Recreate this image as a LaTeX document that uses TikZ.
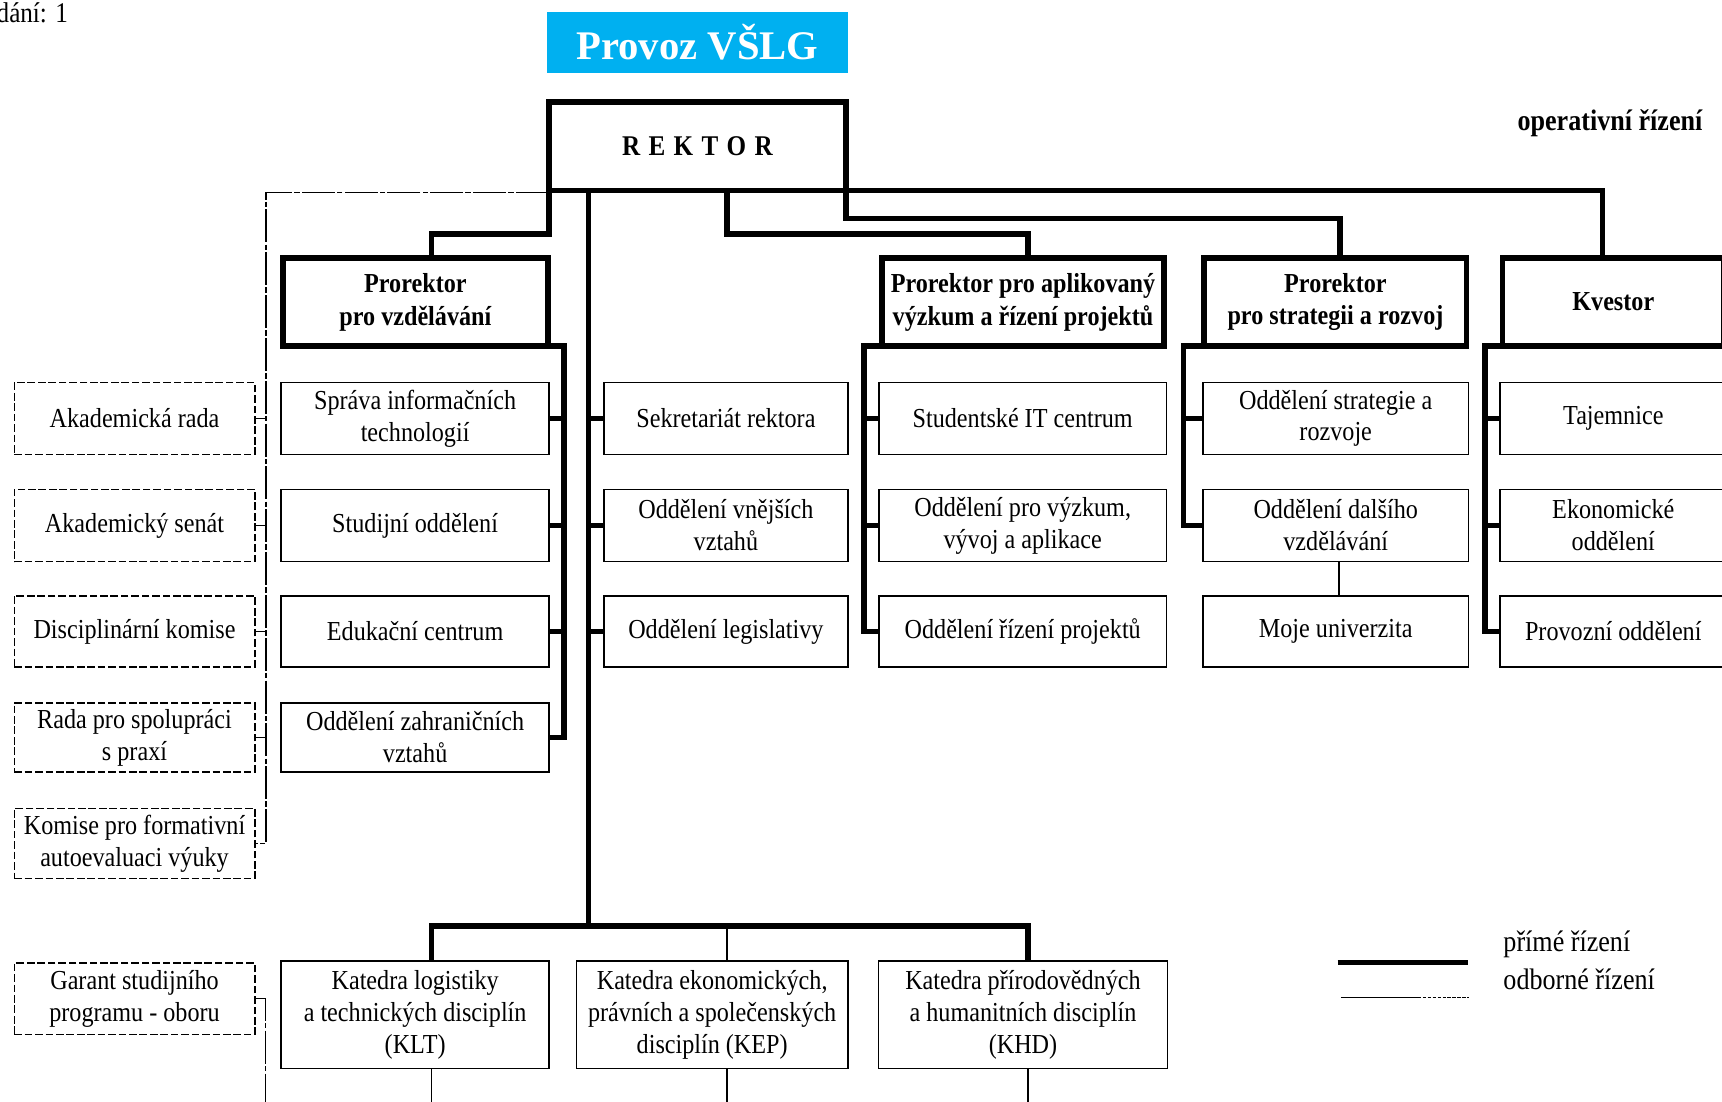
\documentclass[tikz,border=0pt]{standalone}
\usepackage{fontspec}
\setmainfont[FakeStretch=0.88]{Liberation Serif}
\newfontfamily\titlefont{Liberation Serif}
\definecolor{vslgblue}{RGB}{0,176,240}

\begin{document}
\begin{tikzpicture}[x=1pt,y=-1pt,line join=miter]
        \tikzstyle{unitnode}=[
            rectangle,
            draw=black,
            line width=1.3pt,
            outer sep=0pt,
            inner sep=1pt,
            align=center,
            text=black,
            font=\fontsize{25}{29}\selectfont
        ]
        \tikzstyle{leadnode}=[
            unitnode,
            line width=5pt,
            font=\fontsize{25}{30}\selectfont\bfseries
        ]
        \tikzstyle{boardnode}=[
            unitnode,
            dash pattern=on 7pt off 2.5pt
        ]
        \tikzstyle{labelnode}=[
            inner sep=0pt,
            outer sep=0pt,
            text=black
        ]
        \tikzstyle{bus}=[line width=5pt]
        \tikzstyle{stub}=[line width=4pt]
        \tikzstyle{odbor}=[line width=1.1pt, dash pattern=on 30pt off 2pt on 5pt off 2pt]

        \useasboundingbox (0,0) rectangle (1568,1003);

        \node[labelnode, anchor=west, font=\fontsize{26}{30}\selectfont] (vydani) at (-3,12) {dání: 1};
        \node[fill=vslgblue, outer sep=0pt, minimum width=274pt, minimum height=55.5pt, text=white,
              font=\titlefont\fontsize{37}{40}\selectfont\bfseries] (provoz) at (635,38.5) {Provoz VŠLG};
        \node[labelnode, font=\fontsize{27}{30}\selectfont\bfseries] (operRiz) at (1466,112) {operativní řízení};

        \node[leadnode, minimum width=270.5pt, minimum height=80.5pt, font=\fontsize{26}{30}\selectfont\bfseries]
            (rektor) at (635,133) {R\kern7.6pt E\kern7.6pt K\kern7.6pt T\kern7.6pt O\kern7.6pt R};

        % prorektori a kvestor
        \node[leadnode, minimum width=241.5pt, minimum height=80pt] (prorVzd) at (378.25,275) {Prorektor\\pro vzdělávání};
        \node[leadnode, minimum width=257pt, minimum height=80pt] (prorApl) at (931.5,275) {Prorektor pro aplikovaný\\výzkum a řízení projektů};
        \node[leadnode, minimum width=239pt, minimum height=80pt] (prorStr) at (1216,275) {Prorektor\\pro strategii a rozvoj};
        \node[leadnode, minimum width=202pt, minimum height=80pt] (kvestor) at (1469,275) {Kvestor};

        % oddeleni
        \node[unitnode, minimum width=244pt, minimum height=65.5pt] (infTech) at (378,381) {Správa informačních\\technologií};
        \node[unitnode, minimum width=244pt, minimum height=66pt] (studOdd) at (378,478.5) {Studijní oddělení};
        \node[unitnode, minimum width=244pt, minimum height=65pt] (edukCen) at (378,575) {Edukační centrum};
        \node[unitnode, minimum width=244pt, minimum height=63pt] (zahrOdd) at (378,671.5) {Oddělení zahraničních\\vztahů};

        \node[unitnode, minimum width=222pt, minimum height=65.5pt] (sekret) at (661,381) {Sekretariát rektora};
        \node[unitnode, minimum width=222pt, minimum height=66pt] (vnejOdd) at (661,478.5) {Oddělení vnějších\\vztahů};
        \node[unitnode, minimum width=222pt, minimum height=65pt] (legOdd) at (661,575) {Oddělení legislativy};

        \node[unitnode, minimum width=261.5pt, minimum height=65.5pt] (studIT) at (931.25,381) {Studentské IT centrum};
        \node[unitnode, minimum width=261.5pt, minimum height=66pt] (vyzOdd) at (931.25,478.5) {Oddělení pro výzkum,\\vývoj a aplikace};
        \node[unitnode, minimum width=261.5pt, minimum height=65pt] (projOdd) at (931.25,575) {Oddělení řízení projektů};

        \node[unitnode, minimum width=241.5pt, minimum height=65.5pt] (stratOdd) at (1216.25,381) {Oddělení strategie a\\rozvoje};
        \node[unitnode, minimum width=241.5pt, minimum height=66pt] (dalsOdd) at (1216.25,478.5) {Oddělení dalšího\\vzdělávání};
        \node[unitnode, minimum width=241.5pt, minimum height=65pt] (mojeUni) at (1216.25,575) {Moje univerzita};

        \node[unitnode, minimum width=206pt, minimum height=65.5pt] (tajem) at (1469,381) {Tajemnice};
        \node[unitnode, minimum width=206pt, minimum height=66pt] (ekonOdd) at (1469,478.5) {Ekonomické\\oddělení};
        \node[unitnode, minimum width=206pt, minimum height=65pt] (provOdd) at (1469,575) {Provozní oddělení};

        % poradni organy
        \node[boardnode, minimum width=219pt, minimum height=65.5pt] (akRada) at (122.5,381) {Akademická rada};
        \node[boardnode, minimum width=219pt, minimum height=66pt] (akSenat) at (122.5,478.5) {Akademický senát};
        \node[boardnode, minimum width=219pt, minimum height=65pt] (disKom) at (122.5,575) {Disciplinární komise};
        \node[boardnode, minimum width=219pt, minimum height=63pt] (radaSpol) at (122.5,671.5) {Rada pro spolupráci\\s praxí};
        \node[boardnode, minimum width=219pt, minimum height=64pt] (komFor) at (122.5,768) {Komise pro formativní\\autoevaluaci výuky};
        \node[boardnode, minimum width=219pt, minimum height=65pt] (garant) at (122.5,909.5) {Garant studijního\\programu - oboru};

        % katedry
        \node[unitnode, minimum width=244pt, minimum height=98pt] (katLog) at (378,924) {Katedra logistiky\\a technických disciplín\\(KLT)};
        \node[unitnode, minimum width=247pt, minimum height=98pt] (katEko) at (648.5,924) {Katedra ekonomických,\\právních a společenských\\disciplín (KEP)};
        \node[unitnode, minimum width=263pt, minimum height=98pt] (katPri) at (931.5,924) {Katedra přírodovědných\\a humanitních disciplín\\(KHD)};

        % prime rizeni
        \draw[bus] (rektor.south west) -| ([xshift=-10pt]kvestor.north);
        \draw[bus] (rektor.south west) -- ++(0,40) -| ([xshift=14.75pt]prorVzd.north);
        \draw[bus] ([xshift=27pt]rektor.south) -- ++(0,40) -| ([xshift=4.5pt]prorApl.north);
        \draw[bus] (rektor.south east) -- ++(0,25.5) -| ([xshift=4pt]prorStr.north);
        \coordinate (hub) at (536,843);
        \draw[bus] ([xshift=-99pt]rektor.south) -- (hub);
        \draw[bus] ([xshift=15pt]katLog.north) |- (hub) -| ([xshift=4.5pt]katPri.north);
        \draw[line width=2.5pt] ([xshift=13.5pt]katEko.north) -- ([xshift=13.5pt]katEko.north |- hub);

        \draw[bus] (prorVzd.south east) -- ++(14.5,0) |- (zahrOdd.east);
        \draw[stub] (infTech.east) -- ++(14.5,0);
        \draw[stub] (studOdd.east) -- ++(14.5,0);
        \draw[stub] (edukCen.east) -- ++(14.5,0);

        \draw[stub] (sekret.west) -- ++(-14,0);
        \draw[stub] (vnejOdd.west) -- ++(-14,0);
        \draw[stub] (legOdd.west) -- ++(-14,0);

        \draw[bus] (prorApl.south west) -- ++(-16.5,0) |- (projOdd.west);
        \draw[stub] (studIT.west) -- ++(-14,0);
        \draw[stub] (vyzOdd.west) -- ++(-14,0);

        \draw[bus] (prorStr.south west) -- ++(-19,0) |- (dalsOdd.west);
        \draw[stub] (stratOdd.west) -- ++(-18,0);

        \draw[bus] (kvestor.south west) -- ++(-16,0) |- (provOdd.west);
        \draw[stub] (tajem.west) -- ++(-14,0);
        \draw[stub] (ekonOdd.west) -- ++(-14,0);

        \draw[line width=1.3pt] ([xshift=3pt]dalsOdd.south) -- ([xshift=3pt]mojeUni.north);
        \draw[line width=1.3pt] ([xshift=15pt]katLog.south) -- ++(0,40);
        \draw[line width=1.3pt] ([xshift=13.5pt]katEko.south) -- ++(0,40);
        \draw[line width=1.3pt] ([xshift=4.5pt]katPri.south) -- ++(0,40);

        % odborne rizeni
        \draw[odbor] ([yshift=-2pt]rektor.south west) -- ++(-257.5,0) |- (komFor.east);
        \draw[odbor] (akRada.east) -- ++(10,0);
        \draw[odbor] (akSenat.east) -- ++(10,0);
        \draw[odbor] (disKom.east) -- ++(10,0);
        \draw[odbor] (radaSpol.east) -- ++(10,0);
        \draw[odbor] (garant.east) -- ++(10,0) -- ++(0,110);

        % legenda
        \node[labelnode, anchor=west, font=\fontsize{27}{30}\selectfont] (legPrime) at (1369,860) {přímé řízení};
        \node[labelnode, anchor=west, font=\fontsize{27}{30}\selectfont] (legOdb) at (1369,892) {odborné řízení};
        \coordinate (legA) at (1218,876.5);
        \coordinate (legB) at (1221,908);
        \draw[bus] (legA) -- ++(119,0);
        \draw[line width=1.1pt] (legB) -- ++(70,0) coordinate (legC);
        \draw[line width=1.1pt, dash pattern=on 3pt off 1.5pt] (legC) -- ++(47,0);

    \end{tikzpicture}
\end{document}
